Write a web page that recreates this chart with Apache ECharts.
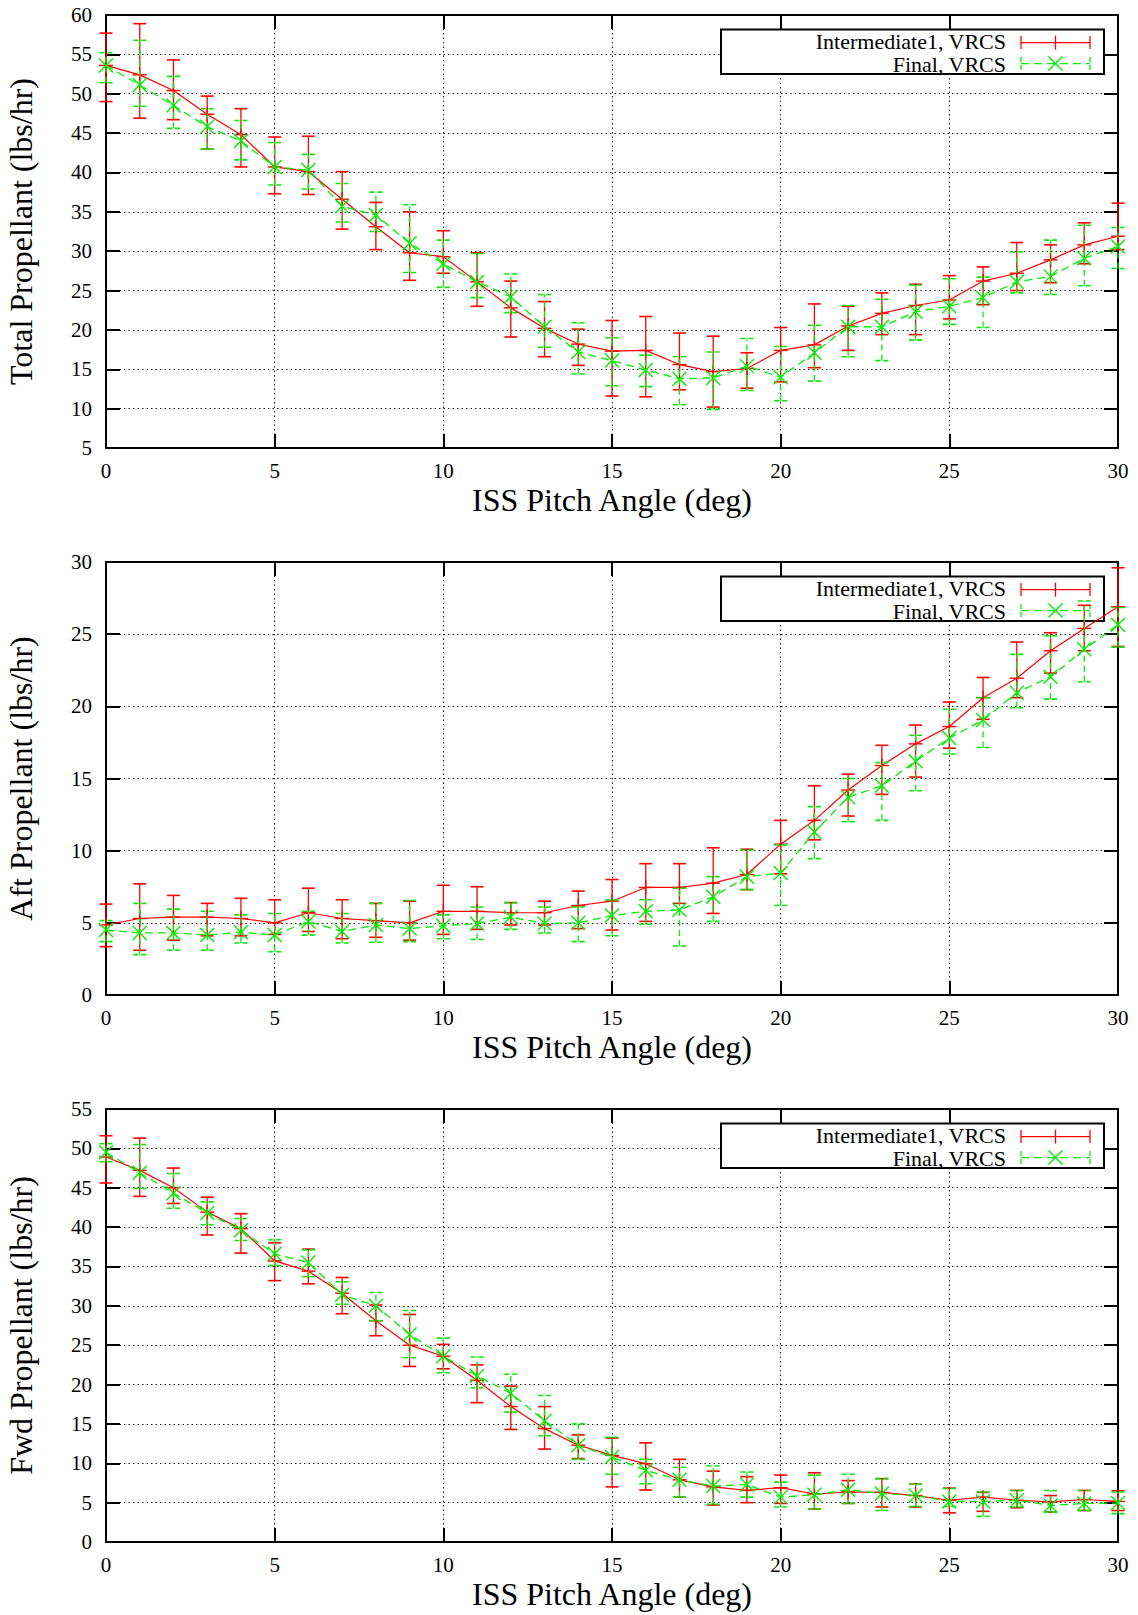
<!DOCTYPE html>
<html>
<head>
<meta charset="utf-8">
<script src="https://cdn.jsdelivr.net/npm/echarts@6/dist/echarts.min.js"></script>
<style>
html,body{margin:0;padding:0;background:#fff;}
#chart{width:1138px;height:1615px;}
</style>
</head>
<body>
<div id="chart"></div>
<script>
// ---------- data ----------
const angles = [0,1,2,3,4,5,6,7,8,9,10,11,12,13,14,15,16,17,18,19,20,21,22,23,24,25,26,27,28,29,30];
const seriesNames = ['Intermediate1, VRCS', 'Final, VRCS'];
const xTitle = 'ISS Pitch Angle (deg)';
const yTitles = ['Total Propellant (lbs/hr)', 'Aft Propellant (lbs/hr)', 'Fwd Propellant (lbs/hr)'];

// Total propellant
const totalInt   = [53.6,52.4,50.4,47.4,44.8,40.7,40.1,36.6,33.1,29.8,29.3,26.1,22.8,20.2,18.2,17.3,17.4,15.6,14.7,15.1,17.4,18.1,20.5,22.1,23.1,23.8,26.2,27.2,28.9,30.8,31.9];
const totalIntLo = [49.0,46.9,46.7,43.0,40.7,37.3,37.2,32.8,30.2,26.3,27.2,23.0,19.1,16.6,15.5,11.6,11.5,12.4,10.2,12.6,13.4,15.2,17.4,19.4,19.4,21.4,23.2,25.0,26.0,28.4,30.2];
const totalIntHi = [57.7,58.9,54.3,49.7,48.1,44.5,44.6,40.1,36.2,35.0,32.6,29.8,26.2,23.6,20.1,21.2,21.7,19.6,19.2,17.1,20.3,23.3,23.0,24.7,25.8,26.9,28.0,31.1,30.8,33.6,36.1];
const totalFin   = [53.6,51.1,48.5,45.8,44.0,40.7,40.3,35.7,34.6,31.0,28.4,26.1,24.2,20.4,17.2,16.1,14.9,13.8,13.9,15.4,14.0,17.1,20.4,20.4,22.3,23.0,24.1,26.1,26.8,29.1,30.6];
const totalFinLo = [51.4,48.4,45.6,43.0,41.6,38.4,37.9,33.7,32.5,27.3,25.4,24.1,22.2,17.8,14.4,12.9,12.8,10.5,9.9,12.3,11.0,13.5,16.6,16.1,18.7,20.7,20.3,24.7,24.5,25.6,27.8];
const totalFinHi = [55.2,56.8,52.2,48.1,46.6,43.8,42.3,38.6,37.5,35.9,31.4,29.7,27.1,24.5,20.9,19.0,16.8,16.6,17.2,18.9,17.9,20.6,23.1,23.9,25.7,26.5,26.7,29.9,31.4,33.3,33.0];

// Aft propellant
const aftInt   = [4.85,5.3,5.4,5.4,5.3,5.0,5.7,5.3,5.15,5.0,5.8,5.8,5.7,5.7,6.2,6.5,7.45,7.45,7.75,8.35,10.45,12.1,14.2,15.9,17.4,18.6,20.6,21.95,23.85,25.4,26.9];
const aftIntLo = [3.35,3.1,3.8,4.1,4.1,4.2,4.4,3.9,4.0,3.8,4.2,4.55,4.85,4.85,4.6,4.5,5.1,6.35,5.65,7.3,8.4,10.75,12.4,13.9,15.1,17.1,19.1,20.6,22.3,23.85,24.15];
const aftIntHi = [6.3,7.7,6.9,6.35,6.7,6.6,7.4,6.6,6.35,6.5,7.6,7.5,6.4,6.5,7.2,8.0,9.1,9.1,10.2,10.1,12.1,14.5,15.3,17.3,18.7,20.3,22.0,24.45,25.1,27.0,29.6];
const aftFin   = [4.5,4.3,4.3,4.15,4.35,4.15,5.1,4.4,4.85,4.6,4.8,4.95,5.4,4.95,5.0,5.5,5.8,5.9,6.8,8.2,8.45,11.3,13.7,14.5,16.2,17.8,19.05,20.95,22.05,23.95,25.65];
const aftFinLo = [3.7,2.8,3.1,3.1,3.6,3.0,4.15,3.6,3.65,3.7,3.9,3.85,4.55,4.3,3.7,4.1,4.9,3.4,5.1,7.3,6.2,9.45,12.0,12.1,14.15,16.7,17.15,19.9,20.5,21.7,24.1];
const aftFinHi = [5.15,6.35,5.95,5.8,5.55,5.65,5.8,5.65,6.35,6.55,5.55,6.1,6.4,6.1,6.1,6.6,6.6,7.4,8.2,10.05,10.4,13.05,15.0,16.1,18.0,19.8,20.6,23.6,24.9,27.3,26.85];

// Fwd propellant
const fwdInt   = [48.9,47.2,45.0,41.9,39.8,35.7,34.4,31.6,28.1,25.0,23.6,20.55,17.2,14.4,12.3,11.0,9.95,7.9,7.0,6.55,6.9,6.1,6.35,6.3,5.9,5.3,5.7,5.3,5.1,5.4,5.15];
const fwdIntLo = [45.6,43.9,43.0,39.0,36.7,33.2,32.8,29.0,26.2,22.3,22.0,17.7,14.3,11.8,10.6,7.0,6.6,5.7,4.7,5.0,4.9,4.2,4.9,4.45,4.45,3.7,3.9,4.35,3.8,4.0,4.0];
const fwdIntHi = [51.6,51.3,47.5,43.8,41.7,38.0,37.2,33.6,30.1,28.9,25.1,22.5,19.8,17.2,13.6,13.2,12.6,10.5,9.0,8.3,8.5,8.8,7.8,8.05,7.4,6.85,6.3,6.55,5.9,6.55,6.5];
const fwdFin   = [49.5,46.9,44.3,41.8,39.6,36.6,35.5,31.4,30.0,26.35,23.6,21.1,18.9,15.4,12.3,10.8,9.1,7.9,7.1,7.3,5.7,6.0,6.65,6.15,5.9,5.15,5.15,5.3,4.65,4.9,4.95];
const fwdFinLo = [48.3,44.9,42.4,40.3,38.3,35.1,33.7,30.2,28.1,23.4,21.5,19.6,16.5,13.5,10.5,8.6,7.4,5.7,4.8,5.7,4.45,4.2,4.9,4.0,4.5,4.5,3.25,4.45,3.8,4.0,3.6];
const fwdFinHi = [50.6,50.5,46.8,43.2,41.1,38.4,37.1,33.05,31.7,29.4,25.9,23.5,21.3,18.6,15.0,13.3,10.5,9.5,9.65,8.9,7.6,8.5,8.6,8.05,7.4,6.8,6.35,6.55,6.55,6.55,6.35];

// axis ranges
const yMins = [5, 0, 0];
const yMaxs = [60, 30, 55];
const xMin = 0, xMax = 30, tickStep = 5;

// ---------- layout / style ----------
const FONT = 'Liberation Serif';
const RED = '#ff0000';
const GREEN = '#00ee00';
const gridTops = [15, 562, 1109];
const gridH = 433;
const gridLeft = 106;
const gridRight = 20;

const panels = [
  {int: totalInt, intLo: totalIntLo, intHi: totalIntHi, fin: totalFin, finLo: totalFinLo, finHi: totalFinHi},
  {int: aftInt, intLo: aftIntLo, intHi: aftIntHi, fin: aftFin, finLo: aftFinLo, finHi: aftFinHi},
  {int: fwdInt, intLo: fwdIntLo, intHi: fwdIntHi, fin: fwdFin, finLo: fwdFinLo, finHi: fwdFinHi}
];

function makeRender(color, dashed, marker) {
  return function (params, api) {
    const x = api.value(0), y = api.value(1), lo = api.value(2), hi = api.value(3);
    const p = api.coord([x, y]);
    const pl = api.coord([x, lo]);
    const ph = api.coord([x, hi]);
    const hw = 6.5, ms = 7;
    const st = {stroke: color, lineWidth: 1.3, fill: null, lineDash: dashed ? [6, 4] : null};
    const capSt = {stroke: color, lineWidth: 1.6, fill: null, lineDash: dashed ? [5, 3] : null};
    const mk = {stroke: color, lineWidth: 1.4, fill: null};
    const ch = [
      {type: 'line', shape: {x1: p[0], y1: pl[1], x2: p[0], y2: ph[1]}, style: st},
      {type: 'line', shape: {x1: p[0] - hw, y1: pl[1], x2: p[0] + hw, y2: pl[1]}, style: capSt},
      {type: 'line', shape: {x1: p[0] - hw, y1: ph[1], x2: p[0] + hw, y2: ph[1]}, style: capSt}
    ];
    if (marker === 'plus') {
      ch.push({type: 'line', shape: {x1: p[0] - ms, y1: p[1], x2: p[0] + ms, y2: p[1]}, style: mk});
      ch.push({type: 'line', shape: {x1: p[0], y1: p[1] - ms, x2: p[0], y2: p[1] + ms}, style: mk});
    } else {
      ch.push({type: 'line', shape: {x1: p[0] - ms, y1: p[1] - ms, x2: p[0] + ms, y2: p[1] + ms}, style: mk});
      ch.push({type: 'line', shape: {x1: p[0] - ms, y1: p[1] + ms, x2: p[0] + ms, y2: p[1] - ms}, style: mk});
    }
    return {type: 'group', children: ch};
  };
}

const grids = [], xAxes = [], yAxes = [], series = [], graphics = [];

panels.forEach(function (pn, i) {
  grids.push({left: gridLeft, right: gridRight, top: gridTops[i], height: gridH, outerBoundsMode: 'none', containLabel: false});
  // bottom x axis
  xAxes.push({
    type: 'value', gridIndex: i, min: xMin, max: xMax, interval: tickStep, position: 'bottom',
    axisLine: {show: true, onZero: false, lineStyle: {color: '#000', width: 2}},
    axisTick: {show: true, inside: true, length: 14, lineStyle: {color: '#000', width: 2}},
    axisLabel: {show: true, margin: 12, fontFamily: FONT, fontSize: 21, color: '#000'},
    splitLine: {show: true, lineStyle: {color: '#222', width: 1, type: [1.5, 3]}},
    name: xTitle, nameLocation: 'middle', nameGap: 52,
    nameTextStyle: {fontFamily: FONT, fontSize: 32, color: '#000', verticalAlign: 'middle'}
  });
  // top mirror x axis
  xAxes.push({
    type: 'value', gridIndex: i, min: xMin, max: xMax, interval: tickStep, position: 'top',
    axisLine: {show: true, onZero: false, lineStyle: {color: '#000', width: 2}},
    axisTick: {show: true, inside: true, length: 14, lineStyle: {color: '#000', width: 2}},
    axisLabel: {show: false}, splitLine: {show: false}
  });
  // left y axis
  yAxes.push({
    type: 'value', gridIndex: i, min: yMins[i], max: yMaxs[i], interval: tickStep, position: 'left',
    axisLine: {show: true, onZero: false, lineStyle: {color: '#000', width: 2}},
    axisTick: {show: true, inside: true, length: 14, lineStyle: {color: '#000', width: 2}},
    axisLabel: {show: true, margin: 14, fontFamily: FONT, fontSize: 21, color: '#000'},
    splitLine: {show: true, lineStyle: {color: '#222', width: 1, type: [1.5, 3]}},
    name: yTitles[i], nameLocation: 'middle', nameGap: 85, nameRotate: 90,
    nameTextStyle: {fontFamily: FONT, fontSize: 32, color: '#000', verticalAlign: 'middle'}
  });
  // right mirror y axis
  yAxes.push({
    type: 'value', gridIndex: i, min: yMins[i], max: yMaxs[i], interval: tickStep, position: 'right',
    axisLine: {show: true, onZero: false, lineStyle: {color: '#000', width: 2}},
    axisTick: {show: true, inside: true, length: 14, lineStyle: {color: '#000', width: 2}},
    axisLabel: {show: false}, splitLine: {show: false}
  });

  const xi = i * 2, yi = i * 2;
  const intData = angles.map((a, k) => [a, pn.int[k], pn.intLo[k], pn.intHi[k]]);
  const finData = angles.map((a, k) => [a, pn.fin[k], pn.finLo[k], pn.finHi[k]]);

  series.push({
    type: 'line', name: seriesNames[0], xAxisIndex: xi, yAxisIndex: yi, z: 2,
    data: angles.map((a, k) => [a, pn.int[k]]), showSymbol: false, symbol: 'none',
    lineStyle: {color: RED, width: 1.2}, animation: false, silent: true
  });
  series.push({
    type: 'custom', name: seriesNames[0] + ' err', xAxisIndex: xi, yAxisIndex: yi, z: 3,
    data: intData, encode: {x: 0, y: 1}, renderItem: makeRender(RED, false, 'plus'),
    animation: false, silent: true, clip: false
  });
  series.push({
    type: 'line', name: seriesNames[1], xAxisIndex: xi, yAxisIndex: yi, z: 4,
    data: angles.map((a, k) => [a, pn.fin[k]]), showSymbol: false, symbol: 'none',
    lineStyle: {color: GREEN, width: 1.3, type: [8, 5]}, animation: false, silent: true
  });
  series.push({
    type: 'custom', name: seriesNames[1] + ' err', xAxisIndex: xi, yAxisIndex: yi, z: 5,
    data: finData, encode: {x: 0, y: 1}, renderItem: makeRender(GREEN, true, 'cross'),
    animation: false, silent: true, clip: false
  });

  // key box
  const T = gridTops[i];
  const y1 = T + 26.9, y2 = T + 49.3;
  const sx1 = 1021, sx2 = 1090, sxm = 1055.5;
  graphics.push({type: 'rect', z: 1, shape: {x: 721, y: T + 14.5, width: 383, height: 44.5},
    style: {fill: '#fff', stroke: '#000', lineWidth: 2}});
  graphics.push({type: 'text', z: 1, x: 1006, y: y1,
    style: {text: seriesNames[0], fontFamily: FONT, fontSize: 22, fill: '#000', align: 'right', verticalAlign: 'middle'}});
  graphics.push({type: 'text', z: 1, x: 1006, y: y2,
    style: {text: seriesNames[1], fontFamily: FONT, fontSize: 22, fill: '#000', align: 'right', verticalAlign: 'middle'}});
  const ly1 = T + 27.6, ly2 = T + 48.6;
  const rs = {stroke: RED, lineWidth: 1.3};
  graphics.push({type: 'line', z: 1, shape: {x1: sx1, y1: ly1, x2: sx2, y2: ly1}, style: rs});
  graphics.push({type: 'line', z: 1, shape: {x1: sx1, y1: ly1 - 6.5, x2: sx1, y2: ly1 + 6.5}, style: rs});
  graphics.push({type: 'line', z: 1, shape: {x1: sx2, y1: ly1 - 6.5, x2: sx2, y2: ly1 + 6.5}, style: rs});
  graphics.push({type: 'line', z: 1, shape: {x1: sxm, y1: ly1 - 7, x2: sxm, y2: ly1 + 7}, style: rs});
  const gs = {stroke: GREEN, lineWidth: 1.3, lineDash: [8, 5]};
  const gc = {stroke: GREEN, lineWidth: 1.3, lineDash: [5, 3]};
  const gm = {stroke: GREEN, lineWidth: 1.4};
  graphics.push({type: 'line', z: 1, shape: {x1: sx1, y1: ly2, x2: sx2, y2: ly2}, style: gs});
  graphics.push({type: 'line', z: 1, shape: {x1: sx1, y1: ly2 - 6.5, x2: sx1, y2: ly2 + 6.5}, style: gc});
  graphics.push({type: 'line', z: 1, shape: {x1: sx2, y1: ly2 - 6.5, x2: sx2, y2: ly2 + 6.5}, style: gc});
  graphics.push({type: 'line', z: 1, shape: {x1: sxm - 7, y1: ly2 - 7, x2: sxm + 7, y2: ly2 + 7}, style: gm});
  graphics.push({type: 'line', z: 1, shape: {x1: sxm - 7, y1: ly2 + 7, x2: sxm + 7, y2: ly2 - 7}, style: gm});
});

const chart = echarts.init(document.getElementById('chart'), null, {renderer: 'svg', width: 1138, height: 1615});
chart.setOption({
  backgroundColor: '#fff',
  animation: false,
  grid: grids,
  xAxis: xAxes,
  yAxis: yAxes,
  series: series,
  graphic: {elements: graphics}
});
</script>
</body>
</html>
